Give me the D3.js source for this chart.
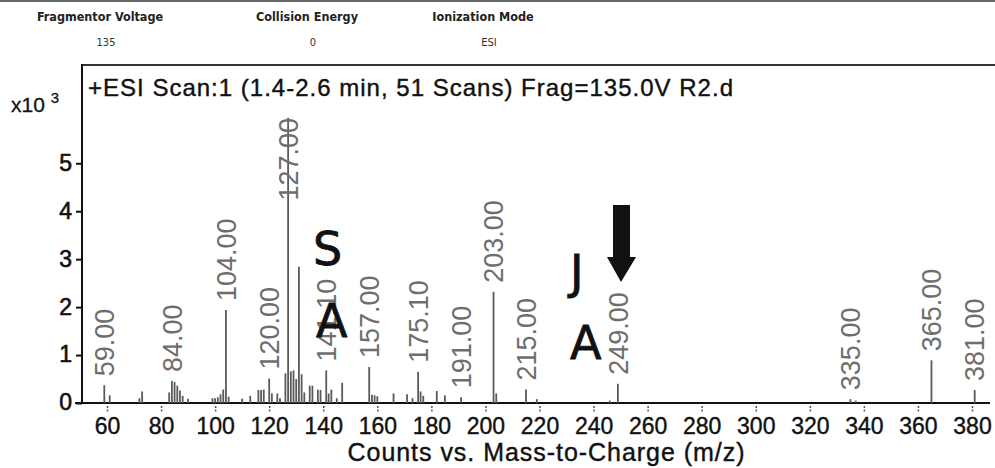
<!DOCTYPE html>
<html lang="en">
<head>
<meta charset="UTF-8">
<title>ESI Scan</title>
<script src="https://cdn.jsdelivr.net/npm/d3@7"></script>
<style>
  body { margin: 0; background: #fff; }
  svg { display: block; font-family: "Liberation Sans", Arial, sans-serif; }
</style>
</head>
<body>
<svg width="995" height="468"></svg>
<script>
// peaks: m/z and counts (x10^3)
var mz = [59, 61, 72, 73, 83, 84, 85, 86, 87, 88, 90, 99, 100, 101, 102, 103, 104, 105,
          110, 113, 116, 117, 118, 120, 121, 123, 124, 126, 127, 128, 129, 130, 131, 132,
          133, 135, 136, 138, 139, 141.1, 142, 143, 145, 147, 157, 158, 159, 160, 166,
          171, 173, 175.1, 176, 177, 182, 185, 191, 203, 204, 215, 219, 246, 249, 335,
          337, 365, 381];
var counts = [0.37, 0.16, 0.1, 0.24, 0.22, 0.46, 0.44, 0.36, 0.26, 0.15, 0.09, 0.1, 0.1, 0.12,
              0.18, 0.28, 1.94, 0.13, 0.09, 0.15, 0.27, 0.27, 0.28, 0.51, 0.2, 0.2, 0.1, 0.62,
              5.95, 0.66, 0.68, 0.5, 2.84, 0.6, 0.22, 0.36, 0.36, 0.28, 0.27, 0.68, 0.2, 0.28,
              0.1, 0.42, 0.75, 0.17, 0.16, 0.14, 0.2, 0.18, 0.1, 0.65, 0.24, 0.15, 0.25, 0.16,
              0.12, 2.32, 0.2, 0.28, 0.08, 0.05, 0.4, 0.08, 0.05, 0.89, 0.27];
// labelled peaks
var labelMz = [59, 84, 104, 120, 127, 141.1, 157, 175.1, 191, 203, 215, 249, 335, 365, 381];
var xTicks = d3.range(60, 381, 20);
var yTicks = [0, 1, 2, 3, 4, 5];
var header = [
    {name: "Fragmentor Voltage", value: "135"},
    {name: "Collision Energy", value: "0"},
    {name: "Ionization Mode", value: "ESI"}
];
var title = "+ESI Scan:1 (1.4-2.6 min, 51 Scans) Frag=135.0V R2.d";
var xTitle = "Counts vs. Mass-to-Charge (m/z)";

var svg = d3.select("svg");
var plotLeft = 82, plotTop = 65, base = 403;

var x = d3.scaleLinear().domain([60, 380]).range([107, 972]);
var y = d3.scaleLinear().domain([0, 7.05]).range([base, plotTop]);

// top rule and header block
svg.append("line").attr("x1", 0).attr("x2", 995).attr("y1", 1).attr("y2", 1)
    .attr("stroke", "#666").attr("stroke-width", 2);
var hx = [100, 307, 483];
var hg = svg.selectAll(".hdr").data(header).enter().append("g")
    .attr("transform", function(d, i){ return "translate(" + hx[i] + ",0)"; })
    .style("font-family", "'DejaVu Sans Condensed', 'DejaVu Sans', sans-serif")
    .attr("text-anchor", "middle");
hg.append("text").attr("y", 21).attr("font-size", 12.5).attr("font-weight", "bold")
    .attr("fill", "#222").text(function(d){ return d.name; });
hg.append("text").attr("x", 6).attr("y", 46).attr("font-size", 11)
    .attr("fill", "#333").text(function(d){ return d.value; });

// frame
svg.append("line").attr("x1", plotLeft).attr("x2", 995).attr("y1", plotTop).attr("y2", plotTop)
    .attr("stroke", "#333").attr("stroke-width", 2);
svg.append("line").attr("x1", plotLeft).attr("x2", plotLeft).attr("y1", plotTop - 1).attr("y2", base)
    .attr("stroke", "#111").attr("stroke-width", 2);
svg.append("line").attr("x1", 75).attr("x2", 990).attr("y1", base).attr("y2", base)
    .attr("stroke", "#111").attr("stroke-width", 2);

// title and multiplier
svg.append("text").attr("x", 88).attr("y", 96).attr("font-size", 24)
    .attr("textLength", 645).attr("lengthAdjust", "spacing")
    .attr("fill", "#111").attr("stroke", "#111").attr("stroke-width", 0.4).text(title);
var mult = svg.append("text").attr("x", 11).attr("y", 112).attr("font-size", 21)
    .attr("fill", "#111").attr("stroke", "#111").attr("stroke-width", 0.3);
mult.append("tspan").text("x10 ");
mult.append("tspan").attr("dy", -9).attr("font-size", 15).text("3");

// y axis
var yAxis = d3.axisLeft(y).tickValues(yTicks).tickFormat(d3.format("d")).tickSize(6).tickPadding(4);
var gy = svg.append("g").attr("transform", "translate(" + plotLeft + ",0)").call(yAxis);
gy.select(".domain").remove();
gy.selectAll(".tick line").attr("stroke", "#111").attr("stroke-width", 2);
gy.selectAll(".tick text").attr("font-size", 23).attr("fill", "#111")
    .attr("stroke", "#111").attr("stroke-width", 0.6)
    .attr("font-family", "'Liberation Sans', Arial, sans-serif").attr("dy", "0.3em");

// x axis
var xAxis = d3.axisBottom(x).tickValues(xTicks).tickSize(7).tickPadding(5);
var gx = svg.append("g").attr("transform", "translate(0," + (base + 3) + ")").call(xAxis);
gx.select(".domain").remove();
gx.selectAll(".tick line").attr("stroke", "#555").attr("stroke-width", 1.5)
    .attr("stroke-dasharray", "2,1.5");
gx.selectAll(".tick text").attr("font-size", 23).attr("fill", "#111")
    .attr("stroke", "#111").attr("stroke-width", 0.4)
    .attr("font-family", "'Liberation Sans', Arial, sans-serif");

svg.append("text").attr("x", 546).attr("y", 461).attr("text-anchor", "middle")
    .attr("font-size", 25).attr("textLength", 397).attr("lengthAdjust", "spacing")
    .attr("fill", "#111").attr("stroke", "#111").attr("stroke-width", 0.4).text(xTitle);

// peaks
var peaks = mz.map(function(m, i){ return {mz: m, c: counts[i]}; });
svg.append("g").selectAll("line").data(peaks).enter().append("line")
    .attr("x1", function(d){ return x(d.mz); })
    .attr("x2", function(d){ return x(d.mz); })
    .attr("y1", base)
    .attr("y2", function(d){ return y(d.c); })
    .attr("stroke", "#5a5a5a").attr("stroke-width", 1.8);

// peak labels, kept inside the frame
var lbl = svg.append("g").selectAll("text")
    .data(labelMz.map(function(m){ return peaks.find(function(p){ return p.mz === m; }); }))
    .enter().append("text")
    .attr("font-size", 27).attr("fill", "#6e6e6e").attr("dy", "0.36em")
    .text(function(d){ return d.mz.toFixed(2); });
lbl.attr("transform", function(d){
    var len = this.getComputedTextLength();
    var b = Math.max(y(d.c) - 9, plotTop + 53 + len);
    return "translate(" + x(d.mz) + "," + b + ") rotate(-90)";
});

// hand-drawn annotations
var notes = svg.append("g").attr("font-family", "'DejaVu Sans', sans-serif")
    .attr("font-size", 46).attr("fill", "#111").attr("stroke", "#111").attr("stroke-width", 0.8);
notes.append("text").attr("x", 313).attr("y", 265).text("S");
notes.append("text").attr("x", 316).attr("y", 337).text("A");
notes.append("text").attr("x", 570).attr("y", 288).text("J");
notes.append("text").attr("x", 570).attr("y", 359).text("A");
svg.append("path")
    .attr("d", "M613,205 L630,205 L630,257 L636,257 L621,282 L607,257 L613,257 Z")
    .attr("fill", "#111");
</script>
</body>
</html>
